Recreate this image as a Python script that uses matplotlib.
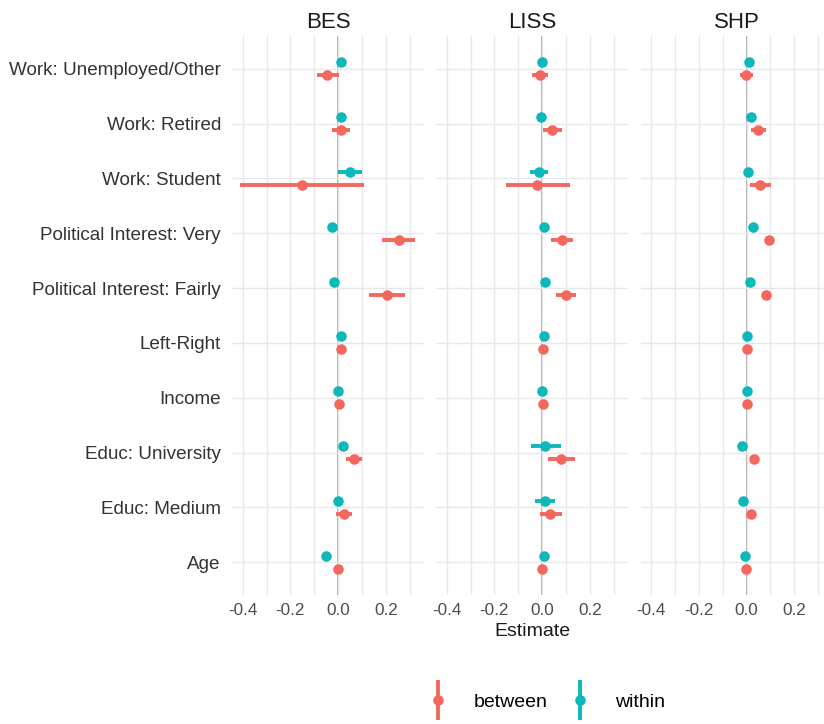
import numpy as np
import matplotlib.pyplot as plt
from matplotlib.lines import Line2D

plt.rcParams['font.family'] = ['Liberation Sans', 'DejaVu Sans']

terms = ['Work: Unemployed/Other', 'Work: Retired', 'Work: Student',
         'Political Interest: Very', 'Political Interest: Fairly', 'Left-Right',
         'Income', 'Educ: University', 'Educ: Medium', 'Age']
surveys = ['BES', 'LISS', 'SHP']

# estimates and confidence bounds, one row per survey, terms in the order above
between_est = [
    [-0.046, 0.012, -0.153, 0.256, 0.204, 0.014, 0.003, 0.067, 0.024, 0.000],
    [-0.010, 0.043, -0.021, 0.083, 0.099, 0.003, 0.003, 0.081, 0.035, 0.000],
    [-0.003, 0.049, 0.058, 0.093, 0.082, 0.000, 0.000, 0.030, 0.017, -0.001],
]
between_lo = [
    [-0.090, -0.025, -0.410, 0.186, 0.131, 0.010, -0.001, 0.035, -0.010, -0.004],
    [-0.043, 0.003, -0.151, 0.036, 0.059, -0.001, -0.001, 0.024, -0.011, -0.004],
    [-0.028, 0.017, 0.014, 0.088, 0.077, -0.003, -0.003, 0.025, 0.012, -0.004],
]
between_hi = [
    [0.003, 0.049, 0.108, 0.324, 0.281, 0.018, 0.007, 0.100, 0.057, 0.004],
    [0.024, 0.084, 0.115, 0.129, 0.143, 0.007, 0.007, 0.138, 0.084, 0.004],
    [0.028, 0.082, 0.103, 0.098, 0.087, 0.003, 0.003, 0.035, 0.022, 0.002],
]
within_est = [
    [0.010, 0.012, 0.049, -0.024, -0.019, 0.011, 0.001, 0.019, 0.000, -0.050],
    [0.000, -0.006, -0.013, 0.008, 0.014, 0.006, 0.000, 0.014, 0.010, 0.007],
    [0.008, 0.020, 0.007, 0.025, 0.015, 0.003, 0.000, -0.020, -0.015, -0.007],
]
within_lo = [
    [0.006, 0.008, -0.001, -0.029, -0.024, 0.008, -0.002, 0.013, -0.005, -0.055],
    [-0.004, -0.010, -0.049, 0.003, 0.009, 0.002, -0.003, -0.046, -0.032, 0.003],
    [0.004, 0.016, 0.003, 0.021, 0.011, 0.000, -0.003, -0.024, -0.019, -0.011],
]
within_hi = [
    [0.014, 0.016, 0.101, -0.019, -0.014, 0.014, 0.004, 0.025, 0.005, -0.045],
    [0.004, -0.002, 0.024, 0.013, 0.019, 0.010, 0.003, 0.077, 0.055, 0.011],
    [0.012, 0.024, 0.011, 0.029, 0.019, 0.006, 0.003, -0.016, -0.011, -0.003],
]

col_between = '#F4675F'
col_within = '#0DB8BD'
dodge = 0.12

W, H = 824, 724
fig = plt.figure(figsize=(W / 100, H / 100), dpi=100)
lefts = [232, 436, 640.5]
ypos = np.arange(len(terms), 0, -1)

for k, name in enumerate(surveys):
    ax = fig.add_axes([lefts[k] / W, 1 - 595 / H, 192 / W, (595 - 36) / H])
    ax.set_xlim(-0.445, 0.36)
    ax.set_ylim(0.4, len(terms) + 0.6)
    ax.set_xticks([-0.4, -0.2, 0.0, 0.2])
    ax.set_xticks([-0.3, -0.1, 0.1, 0.3], minor=True)
    ax.set_xticklabels(['-0.4', '-0.2', '0.0', '0.2'])
    ax.set_yticks(ypos)
    ax.grid(True, which='both', axis='x', color='#e8e8e8', lw=1.0, zorder=0)
    ax.grid(True, which='major', axis='y', color='#e8e8e8', lw=1.0, zorder=0)
    for s in ax.spines.values():
        s.set_visible(False)
    ax.tick_params(which='both', length=0)
    ax.tick_params(axis='x', pad=6, labelsize=12.3, labelcolor='#4d4d4d')
    if k == 0:
        ax.set_yticklabels(terms)
        ax.tick_params(axis='y', pad=8, labelsize=13.6, labelcolor='#333333')
    else:
        ax.set_yticklabels([])
    ax.axvline(0, color='#a6a6a6', lw=1.3, zorder=1)

    for est, lo, hi, col, off in [
        (between_est[k], between_lo[k], between_hi[k], col_between, -dodge),
        (within_est[k], within_lo[k], within_hi[k], col_within, dodge),
    ]:
        y = ypos + off
        ax.hlines(y, lo, hi, color=col, lw=2.8, zorder=2)
        ax.plot(est, y, 'o', color=col, ms=7.6, mew=0, zorder=3)

    ax.set_title(name, fontsize=16, pad=6, color='#1a1a1a')
    if k == 1:
        ax.set_xlabel('Estimate', fontsize=14, labelpad=3, color='#1a1a1a')

handles = []
for col in [col_between, col_within]:
    bar = Line2D([], [], ls='', marker='|', ms=29, mew=2.8, color=col)
    dot = Line2D([], [], ls='', marker='o', ms=7.6, mew=0, color=col)
    handles.append((bar, dot))

fig.legend(handles, ['between', 'within'], loc='center',
           bbox_to_anchor=(546 / W, 1 - 702 / H), ncol=2, frameon=False,
           fontsize=14, handlelength=1.2, handletextpad=1.2, columnspacing=1.1)

fig.savefig('out.png', dpi=100)
